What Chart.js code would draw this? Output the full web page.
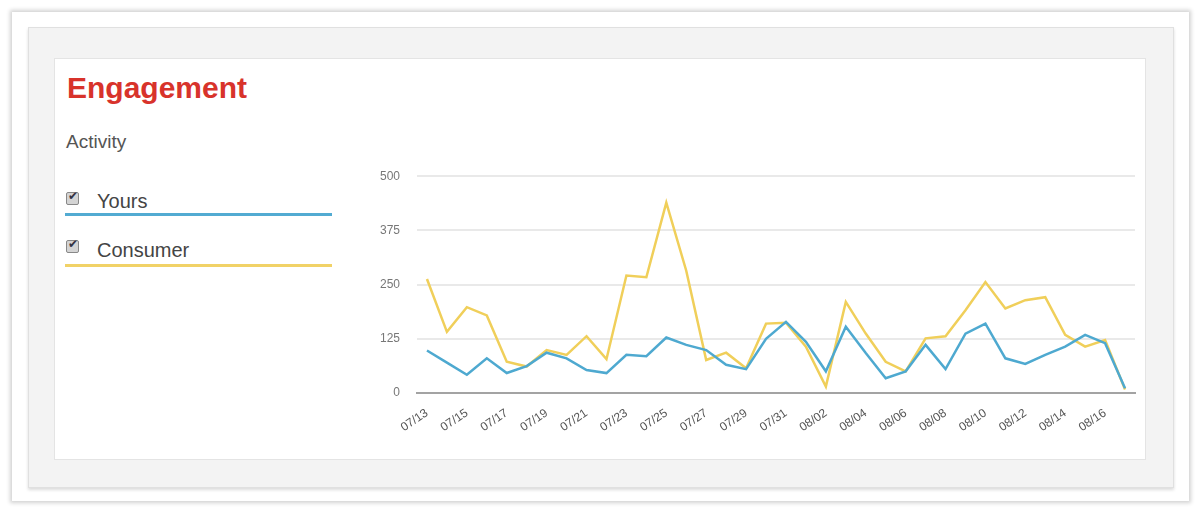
<!DOCTYPE html>
<html>
<head>
<meta charset="utf-8">
<script src="https://cdn.jsdelivr.net/npm/chart.js@4.4.1/dist/chart.umd.min.js"></script>
<style>
  body { margin: 0; background: #fff; font-family: "Liberation Sans", Arial, sans-serif; }
  .esterno { position: absolute; left: 12px; top: 12px; width: 1177px; height: 489px; background: #fff; box-shadow: 0 0 4px 2px rgba(0,0,0,0.18); }
  .medio { position: absolute; left: 28px; top: 27px; width: 1144px; height: 459px; background: #f3f3f3; border: 1px solid #e0e0e0; box-shadow: 0 2px 3px rgba(0,0,0,0.14); }
  .pannello { position: absolute; left: 54px; top: 58px; width: 1090px; height: 400px; background: #fff; border: 1px solid #e4e4e4; }
  .titolo { position: absolute; left: 67px; top: 73px; font-size: 30px; line-height: 30px; font-weight: bold; color: #d8332b; }
  .sottotitolo { position: absolute; left: 66px; top: 132px; font-size: 19px; line-height: 20px; color: #555; }
  .voce { position: absolute; left: 97px; font-size: 20px; line-height: 20px; color: #444; }
  .spunta { position: absolute; left: 66px; width: 11px; height: 11px; border: 1px solid #888; background: #d4d4d4; border-radius: 2px; }
  .spunta::after { content: "\2714"; position: absolute; left: 1px; top: -4px; font-size: 12px; color: #334; }
  .linea { position: absolute; left: 65px; width: 267px; height: 3px; }
  #contenitore { position: absolute; left: 340px; top: 152px; width: 810px; height: 298px; }
</style>
</head>
<body>
<div class="esterno"></div>
<div class="medio"></div>
<div class="pannello"></div>
<div class="titolo">Engagement</div>
<div class="sottotitolo">Activity</div>

<div class="spunta" style="top:192px"></div>
<div class="voce" style="top:191px">Yours</div>
<div class="linea" style="top:213px; background:#52abd2"></div>

<div class="spunta" style="top:240px"></div>
<div class="voce" style="top:240px">Consumer</div>
<div class="linea" style="top:264px; background:#f1d267"></div>

<div id="contenitore"><canvas id="ChartEngagement"></canvas></div>

<script>
// Date (una per giorno, etichetta mostrata a giorni alterni)
const date = ['07/13', '07/14', '07/15', '07/16', '07/17', '07/18', '07/19', '07/20', '07/21', '07/22',
  '07/23', '07/24', '07/25', '07/26', '07/27', '07/28', '07/29', '07/30', '07/31', '08/01',
  '08/02', '08/03', '08/04', '08/05', '08/06', '08/07', '08/08', '08/09', '08/10', '08/11',
  '08/12', '08/13', '08/14', '08/15', '08/16', '08/17'];

// Valori
const yours = [98, 70, 42, 80, 46, 62, 93, 80, 53, 46, 88, 85, 128, 111, 99, 65, 55, 125,
  164, 118, 50, 153, 92, 34, 50, 111, 55, 137, 160, 80, 67, 88, 107, 134, 115, 11];
const consumer = [263, 141, 198, 179, 72, 61, 99, 88, 131, 78, 271, 267, 439, 282, 76, 93, 57, 160,
  162, 107, 15, 210, 137, 72, 50, 126, 131, 191, 256, 195, 214, 221, 134, 107, 122, 8];

// Tacche asse Y
const tackeY = [0, 125, 250, 375, 500];

// Grafico a linee Yours vs Consumer
const ChartEngagement = new Chart(
  document.getElementById('ChartEngagement'),
  {
    type: 'line',
    data: {
      labels: date,
      datasets: [{
        label: 'Yours',
        data: yours,
        borderColor: '#4ea9d0',
        borderWidth: 2.5,
        pointRadius: 0,
        tension: 0,
        fill: false
      }, {
        label: 'Consumer',
        data: consumer,
        borderColor: '#f0cf5a',
        borderWidth: 2.5,
        pointRadius: 0,
        tension: 0,
        fill: false
      }]
    },
    options: {
      responsive: true,
      maintainAspectRatio: false,
      animation: false,
      layout: { padding: { left: 0, right: 15, top: 7, bottom: 0 } },
      plugins: { legend: { display: false }, tooltip: { enabled: false } },
      scales: {
        x: {
          offset: true,
          grid: { display: false },
          border: { display: true, color: '#a3a3a3', width: 2 },
          afterFit: function (scala) { scala.height = 57; },
          ticks: {
            autoSkip: false,
            minRotation: 34,
            maxRotation: 34,
            padding: 5,
            color: '#555',
            font: { family: 'Liberation Sans', size: 12 },
            callback: function (valore, indice) {
              return indice % 2 === 0 ? date[indice] : '';
            }
          }
        },
        y: {
          min: tackeY[0],
          max: tackeY[tackeY.length - 1],
          afterFit: function (scala) { scala.width = 77; },
          afterBuildTicks: function (scala) {
            scala.ticks = tackeY.map(function (v) { return { value: v }; });
          },
          grid: { color: '#e9e9e9', lineWidth: 2, drawTicks: false },
          border: { display: false },
          ticks: {
            padding: 17,
            color: '#777',
            font: { family: 'Liberation Sans', size: 12 }
          }
        }
      }
    }
  }
);
</script>
</body>
</html>
